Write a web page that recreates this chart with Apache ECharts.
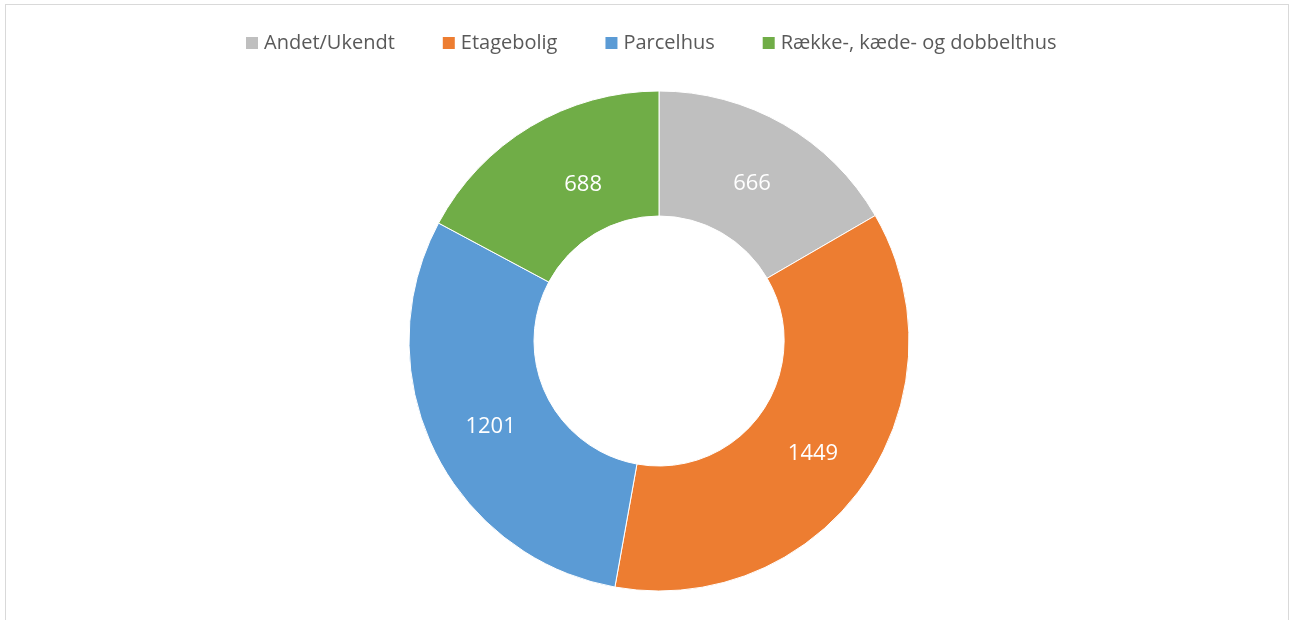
<!DOCTYPE html>
<html>
<head>
<meta charset="utf-8">
<script src="https://cdn.jsdelivr.net/npm/echarts@6/dist/echarts.min.js"></script>
<style>
html,body{margin:0;padding:0;background:#fff;}
#frame{position:absolute;left:5px;top:4px;width:1284px;height:640px;border:1px solid #d9d9d9;box-sizing:border-box;}
#chart{position:absolute;left:0;top:0;width:1292px;height:620px;}
</style>
</head>
<body>
<div id="frame"></div>
<div id="chart"></div>
<script>
const categories = ["Andet/Ukendt", "Etagebolig", "Parcelhus", "Række-, kæde- og dobbelthus"];
const values = [666, 1449, 1201, 688];
const colors = ["#BFBFBF", "#ED7D31", "#5B9BD5", "#70AD47"];

const chart = echarts.init(document.getElementById('chart'));
const labelNudge = [[-2, 8], [-2, 3], [3, 3], [22, 7]];
chart.setOption({
  animation: false,
  color: colors,
  legend: {
    top: 28,
    left: 239,
    icon: 'rect',
    itemWidth: 14,
    itemHeight: 14,
    itemGap: 46,
    textStyle: { fontFamily: 'Open Sans', fontSize: 20, color: '#595959' },
    data: categories
  },
  series: [{
    type: 'pie',
    center: [659, 341],
    radius: [125, 250],
    startAngle: 90,
    clockwise: true,
    avoidLabelOverlap: false,
    itemStyle: { borderColor: '#fff', borderWidth: 1 },
    label: {
      show: true,
      position: 'inside',
      formatter: '{c}',
      color: '#fff',
      fontFamily: 'Open Sans',
      fontSize: 22
    },
    labelLine: { show: false },
    data: categories.map((c, i) => ({ name: c, value: values[i], label: { offset: labelNudge[i] } }))
  }]
});
</script>
</body>
</html>
